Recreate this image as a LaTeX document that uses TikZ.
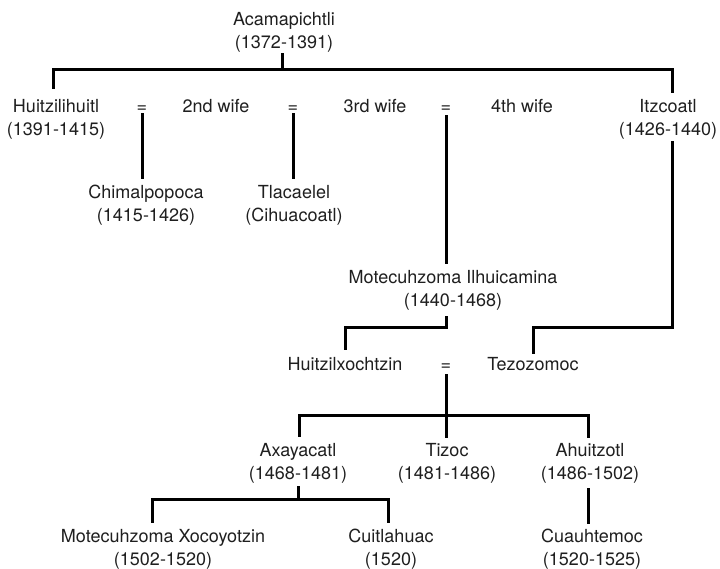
\documentclass[tikz,border=0pt]{standalone}
\usepackage{fontspec}
\setmainfont{TeX Gyre Heros}
\begin{document}
\begin{tikzpicture}[x=1pt,y=-1pt,
  person/.style={align=center,inner sep=0pt,font=\fontsize{18}{23}\selectfont,text=black!88},
  single/.style={inner sep=0pt,font=\fontsize{18}{23}\selectfont,text height=13pt,text depth=4pt,text=black!88},
  link/.style={line width=3pt,line join=miter,line cap=rect}]
\useasboundingbox[fill=white] (0,0) rectangle (720,569);
% generation 1
\node[person] (acam) at (284,32) {Acamapichtli\\(1372-1391)};
% generation 2
\node[person] (huitz) at (56,119) {Huitzilihuitl\\(1391-1415)};
\node[single] (eqa) at (142,108) {=};
\node[single] (wifeb) at (216,108) {2nd wife};
\node[single] (eqb) at (293,108) {=};
\node[single] (wifec) at (375,108) {3rd wife};
\node[single] (eqc) at (446,108) {=};
\node[single] (wifed) at (522,108) {4th wife};
\node[person] (itz) at (668,119) {Itzcoatl\\(1426-1440)};
% generation 3
\node[person] (chimal) at (146,205) {Chimalpopoca\\(1415-1426)};
\node[person] (tlac) at (294,205) {Tlacaelel\\(Cihuacoatl)};
\node[person] (motil) at (453,290) {Motecuhzoma Ilhuicamina\\(1440-1468)};
% generation 4
\node[single] (huitzx) at (345,366) {Huitzilxochtzin};
\node[single] (eqd) at (446,366) {=};
\node[single] (tezo) at (533,366) {Tezozomoc};
% generation 5
\node[person] (axa) at (298,463) {Axayacatl\\(1468-1481)};
\node[person] (tizoc) at (447,463) {Tizoc\\(1481-1486)};
\node[person] (ahu) at (590,463) {Ahuitzotl\\(1486-1502)};
% generation 6
\node[person] (motx) at (163,549) {Motecuhzoma Xocoyotzin\\(1502-1520)};
\node[person] (cuit) at (391,549) {Cuitlahuac\\(1520)};
\node[person] (cuau) at (592,549) {Cuauhtemoc\\(1520-1525)};
% coordinates
\coordinate (acamdown) at (282,55);
\coordinate (barl) at (53,70);
\coordinate (barm) at (282,70);
\coordinate (barr) at (672,70);
\coordinate (huitzup) at (53,88);
\coordinate (itzup) at (672,92);
\coordinate (eqadown) at (142,115);
\coordinate (chimalup) at (142,178);
\coordinate (eqbdown) at (293,115);
\coordinate (tlacup) at (293,178);
\coordinate (eqcdown) at (446,117);
\coordinate (motilup) at (446,263);
\coordinate (itzdown) at (672,143);
\coordinate (itzcorner) at (672,327);
\coordinate (tezocorner) at (533,327);
\coordinate (tezoup) at (533,352);
\coordinate (motildown) at (446,317);
\coordinate (motiljoin) at (446,327);
\coordinate (huitzxcorner) at (345,327);
\coordinate (huitzxup) at (345,348);
\coordinate (eqddown) at (446,375);
\coordinate (tizocup) at (446,436);
\coordinate (axaup) at (299,435);
\coordinate (axacorner) at (299,415);
\coordinate (ahucorner) at (588,415);
\coordinate (ahuup) at (588,436);
\coordinate (axadown) at (298,487);
\coordinate (axajoin) at (298,499);
\coordinate (motxcorner) at (152,499);
\coordinate (motxup) at (152,521);
\coordinate (cuitcorner) at (388,499);
\coordinate (cuitup) at (388,521);
\coordinate (ahudown) at (588,489);
\coordinate (cauup) at (588,522);
% connectors
\draw[link] (acamdown) -- (barm);
\draw[link] (huitzup) -- (barl) -- (barr) -- (itzup);
\draw[link] (eqadown) -- (chimalup);
\draw[link] (eqbdown) -- (tlacup);
\draw[link] (eqcdown) -- (motilup);
\draw[link] (itzdown) -- (itzcorner) -- (tezocorner) -- (tezoup);
\draw[link] (motildown) -- (motiljoin) -- (huitzxcorner) -- (huitzxup);
\draw[link] (eqddown) -- (tizocup);
\draw[link] (axaup) -- (axacorner) -- (ahucorner) -- (ahuup);
\draw[link] (axadown) -- (axajoin);
\draw[link] (motxup) -- (motxcorner) -- (cuitcorner) -- (cuitup);
\draw[link] (ahudown) -- (cauup);
\end{tikzpicture}
\end{document}
